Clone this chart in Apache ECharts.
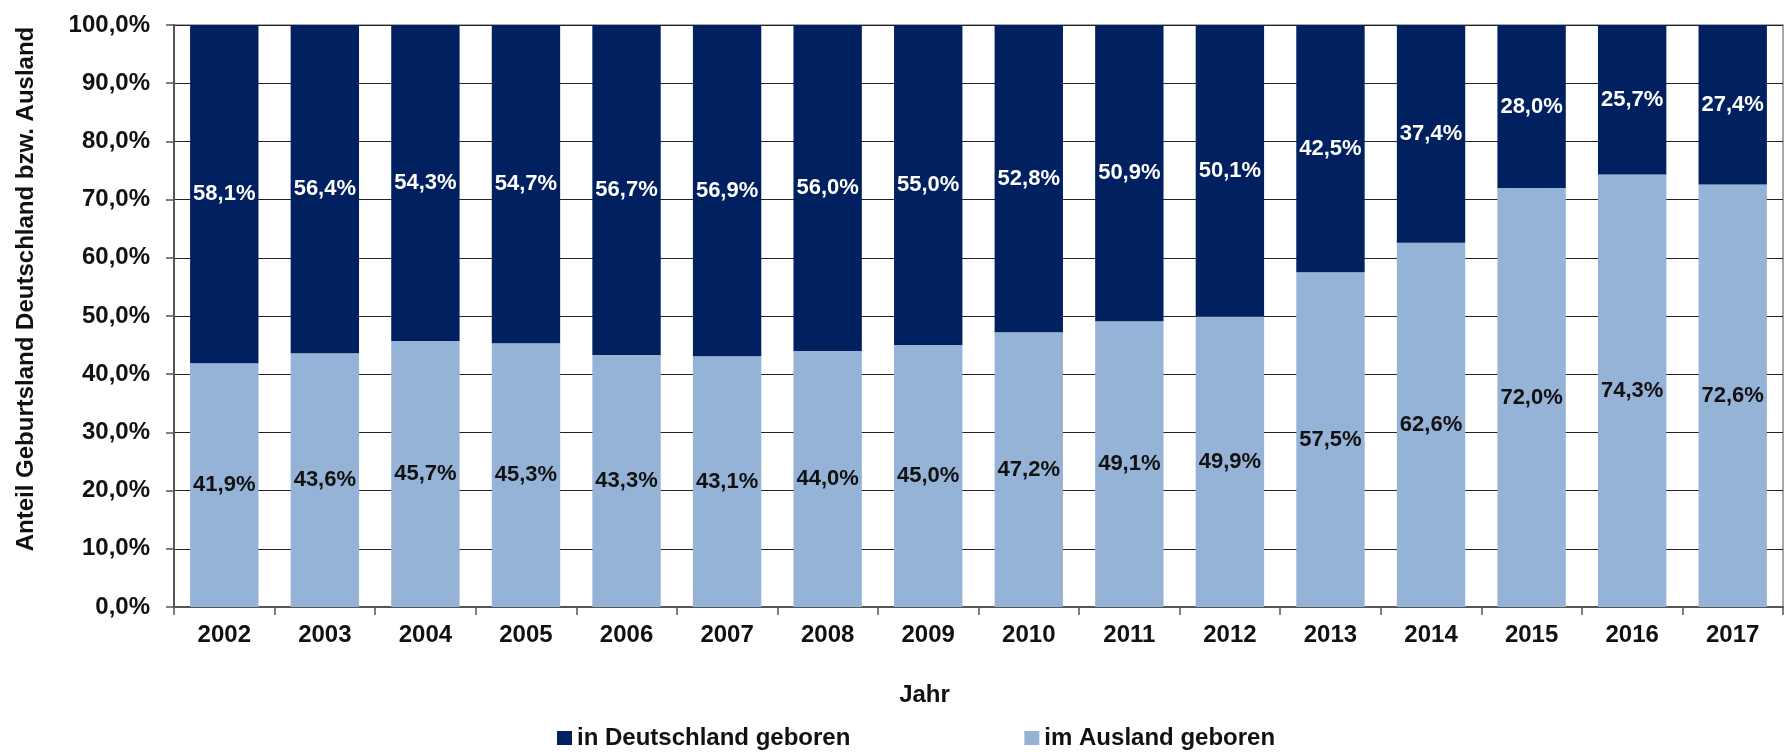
<!DOCTYPE html>
<html>
<head>
<meta charset="utf-8">
<script src="https://cdn.jsdelivr.net/npm/echarts@6/dist/echarts.min.js"></script>
<style>
html,body{margin:0;padding:0;background:#fff;}
#chart{width:1788px;height:752px;}
</style>
</head>
<body>
<div id="chart"></div>
<script>
const years = ['2002','2003','2004','2005','2006','2007','2008','2009','2010','2011','2012','2013','2014','2015','2016','2017'];
const inDeutschland = [58.1,56.4,54.3,54.7,56.7,56.9,56.0,55.0,52.8,50.9,50.1,42.5,37.4,28.0,25.7,27.4];
const imAusland = [41.9,43.6,45.7,45.3,43.3,43.1,44.0,45.0,47.2,49.1,49.9,57.5,62.6,72.0,74.3,72.6];
const yTicks = [0,10,20,30,40,50,60,70,80,90,100];

const fmt = v => v.toFixed(1).replace('.', ',') + '%';
const FONT = '"Liberation Sans", Arial, sans-serif';

const chart = echarts.init(document.getElementById('chart'), null, {renderer:'canvas'});
chart.setOption({
  animation: false,
  backgroundColor: '#fff',
  textStyle: {fontFamily: FONT},
  grid: {left: 174, right: 5, top: 25, bottom: 145, show: true, borderColor: '#8c8c8c', borderWidth: 1.5, containLabel: false},
  legend: {
    left: 557, top: 726, padding: 0,
    itemWidth: 15, itemHeight: 14, itemGap: 174,
    icon: 'rect',
    textStyle: {fontFamily: FONT, fontSize: 24, fontWeight: 'bold', color: '#111'},
    data: ['in Deutschland geboren', 'im Ausland geboren']
  },
  xAxis: {
    type: 'category',
    data: years,
    boundaryGap: true,
    name: 'Jahr',
    nameLocation: 'middle',
    nameGap: 76,
    nameTextStyle: {fontFamily: FONT, fontSize: 24, fontWeight: 'bold', color: '#111', padding: [0, 108, 0, 0]},
    axisLine: {show: true, lineStyle: {color: '#555', width: 2}},
    axisTick: {show: true, length: 8, lineStyle: {color: '#555', width: 1.5}},
    axisLabel: {fontFamily: FONT, fontSize: 24, fontWeight: 'bold', color: '#111', margin: 16}
  },
  yAxis: {
    type: 'value',
    min: yTicks[0], max: yTicks[yTicks.length-1], interval: 10,
    name: 'Anteil Geburtsland Deutschland bzw. Ausland',
    nameLocation: 'middle',
    nameGap: 136,
    nameTextStyle: {fontFamily: FONT, fontSize: 24, fontWeight: 'bold', color: '#111', padding: [0, 0, 0, 54]},
    axisLine: {show: true, lineStyle: {color: '#555', width: 2}},
    axisTick: {show: true, length: 8, lineStyle: {color: '#555', width: 1.5}},
    axisLabel: {fontFamily: FONT, fontSize: 24, fontWeight: 'bold', color: '#111', margin: 24, formatter: v => fmt(v)},
    splitLine: {show: true, lineStyle: {color: '#222', width: 1.2}}
  },
  series: [
    {
      name: 'im Ausland geboren',
      type: 'bar',
      stack: 'total',
      data: imAusland,
      barCategoryGap: '32%',
      itemStyle: {color: '#95B3D7'},
      label: {show: true, position: 'inside', formatter: p => fmt(p.value), fontFamily: FONT, fontSize: 22, fontWeight: 'bold', color: '#111'}
    },
    {
      name: 'in Deutschland geboren',
      type: 'bar',
      stack: 'total',
      data: inDeutschland,
      barCategoryGap: '32%',
      itemStyle: {color: '#00205F'},
      label: {show: true, position: 'inside', formatter: p => fmt(p.value), fontFamily: FONT, fontSize: 22, fontWeight: 'bold', color: '#fff'}
    }
  ]
});
</script>
</body>
</html>
